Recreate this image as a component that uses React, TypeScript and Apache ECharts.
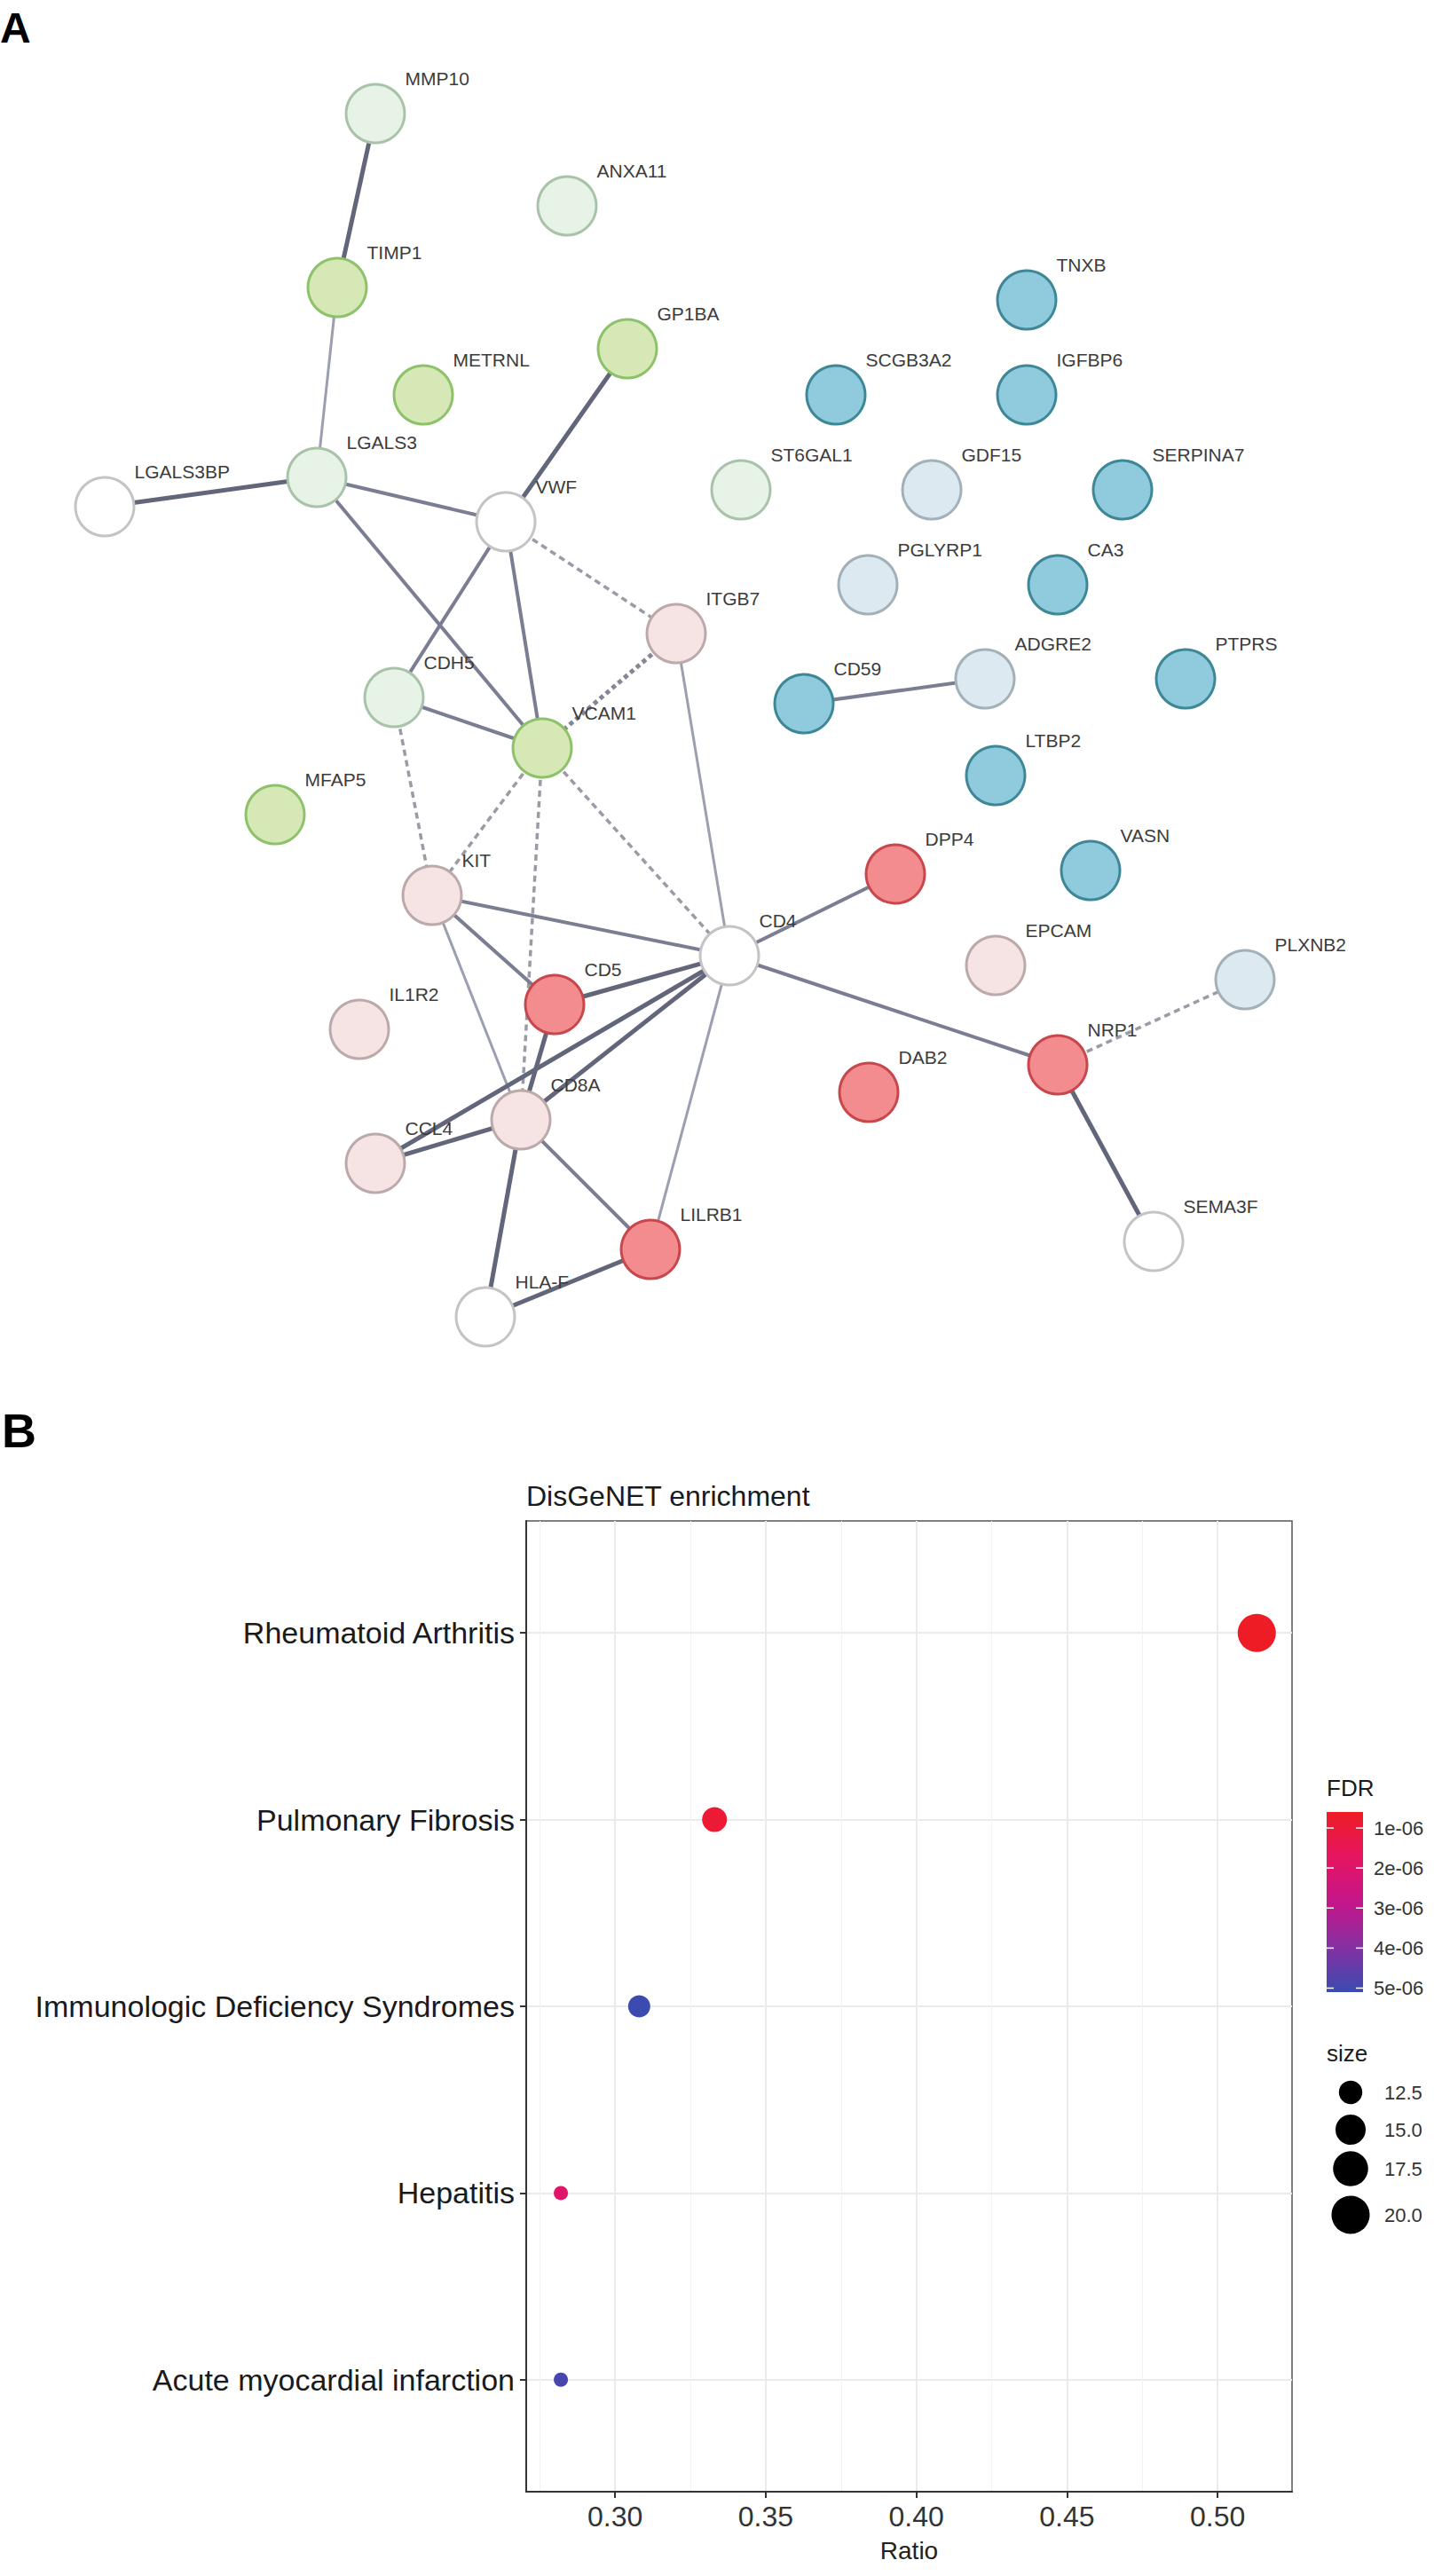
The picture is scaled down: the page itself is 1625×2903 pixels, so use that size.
import React, { useEffect, useRef } from 'react';
import * as echarts from 'echarts';

// ---------- Panel A: STRING protein network ----------
const geneNames = [
  'MMP10', 'ANXA11', 'TIMP1', 'GP1BA', 'METRNL', 'LGALS3', 'LGALS3BP', 'VWF', 'ITGB7', 'CDH5',
  'VCAM1', 'MFAP5', 'KIT', 'CD5', 'IL1R2', 'CD8A', 'CCL4', 'LILRB1', 'HLA-F', 'CD4',
  'TNXB', 'SCGB3A2', 'IGFBP6', 'ST6GAL1', 'GDF15', 'SERPINA7', 'PGLYRP1', 'CA3', 'ADGRE2', 'PTPRS',
  'CD59', 'LTBP2', 'DPP4', 'VASN', 'EPCAM', 'PLXNB2', 'NRP1', 'DAB2', 'SEMA3F',
];
// network layout coordinates (layout units)
const layoutX = [
  423, 639, 380, 707, 477, 357, 118, 570, 762, 444,
  611, 310, 487, 625, 405, 587, 423, 733, 547, 822,
  1157, 942, 1157, 835, 1050, 1265, 978, 1192, 1110, 1336,
  906, 1122, 1009, 1229, 1122, 1403, 1192, 979, 1300,
];
const layoutY = [
  128, 232, 324, 393, 445, 538, 571, 588, 714, 786,
  843, 918, 1009, 1132, 1160, 1262, 1311, 1408, 1484, 1077,
  338, 445, 445, 552, 552, 552, 659, 659, 765, 765,
  793, 874, 985, 981, 1088, 1104, 1200, 1231, 1399,
];
const geneCluster = [
  'paleGreen', 'paleGreen', 'green', 'green', 'green', 'paleGreen', 'white', 'white', 'palePink', 'paleGreen',
  'green', 'green', 'palePink', 'red', 'palePink', 'palePink', 'palePink', 'red', 'white', 'white',
  'teal', 'teal', 'teal', 'paleGreen', 'paleBlue', 'teal', 'paleBlue', 'teal', 'paleBlue', 'teal',
  'teal', 'teal', 'red', 'teal', 'palePink', 'paleBlue', 'red', 'red', 'white',
];

const edgeSource = [
  'MMP10', 'TIMP1', 'LGALS3BP', 'LGALS3', 'LGALS3', 'GP1BA', 'VWF', 'VWF', 'VWF', 'ITGB7',
  'ITGB7', 'CDH5', 'CDH5', 'VCAM1', 'VCAM1', 'VCAM1', 'KIT', 'KIT', 'KIT', 'CD5',
  'CD5', 'CD8A', 'CCL4', 'CCL4', 'CD4', 'CD4', 'CD4', 'CD8A', 'CD8A', 'HLA-F',
  'NRP1', 'NRP1', 'CD59',
];
const edgeTarget = [
  'TIMP1', 'LGALS3', 'LGALS3', 'VWF', 'VCAM1', 'VWF', 'CDH5', 'VCAM1', 'ITGB7', 'VCAM1',
  'CD4', 'VCAM1', 'KIT', 'KIT', 'CD8A', 'CD4', 'CD4', 'CD5', 'CD8A', 'CD4',
  'CD8A', 'CD4', 'CD4', 'CD8A', 'LILRB1', 'DPP4', 'NRP1', 'HLA-F', 'LILRB1', 'LILRB1',
  'PLXNB2', 'SEMA3F', 'ADGRE2',
];
const edgeEvidence = [
  'high', 'low', 'high', 'mid', 'mid', 'high', 'mid', 'mid', 'dash', 'dashHeavy',
  'low', 'mid', 'dash', 'dash', 'dash', 'dash', 'mid', 'mid', 'low', 'high',
  'high', 'high', 'high', 'high', 'low', 'mid', 'mid', 'high', 'mid', 'high',
  'dash', 'high', 'mid',
];

// ---------- Panel B: DisGeNET enrichment ----------
const diseaseNames = [
  'Rheumatoid Arthritis',
  'Pulmonary Fibrosis',
  'Immunologic Deficiency Syndromes',
  'Hepatitis',
  'Acute myocardial infarction',
];
const diseaseRatio = [0.513, 0.333, 0.308, 0.282, 0.282];
const diseaseSize = [20, 13, 12, 11, 11];
const diseaseFDR = [0.6e-6, 0.9e-6, 5.1e-6, 1.9e-6, 4.9e-6];

const ratioTicks = [0.3, 0.35, 0.4, 0.45, 0.5];
const ratioMinorTicks = [0.275, 0.325, 0.375, 0.425, 0.475];
const fdrLegendTicks = [1e-6, 2e-6, 3e-6, 4e-6, 5e-6];
const fdrLegendLabels = ['1e-06', '2e-06', '3e-06', '4e-06', '5e-06'];
const sizeLegendValues = [12.5, 15, 17.5, 20];
const sizeLegendLabels = ['12.5', '15.0', '17.5', '20.0'];

// ---------- styles ----------
const FONT = '"Liberation Sans", Arial, Helvetica, sans-serif';

const clusterStyle: Record<string, { fill: string; stroke: string }> = {
  green: { fill: '#d6e8b6', stroke: '#8dc26b' },
  paleGreen: { fill: '#e8f3e8', stroke: '#a9c3aa' },
  white: { fill: '#ffffff', stroke: '#c4c4c4' },
  palePink: { fill: '#f6e4e5', stroke: '#bcaaab' },
  red: { fill: '#f28c8f', stroke: '#c8474c' },
  teal: { fill: '#8fcbdc', stroke: '#3e8797' },
  paleBlue: { fill: '#dde9f1', stroke: '#a2b0b7' },
};

const edgeStyle: Record<string, any> = {
  high: { width: 5, color: '#62667b', type: 'solid' },
  mid: { width: 4, color: '#7b7e92', type: 'solid' },
  low: { width: 3, color: '#9c9fb0', type: 'solid' },
  dash: { width: 3.5, color: '#9a9ba6', type: [7, 5] },
  dashHeavy: { width: 5, color: '#858796', type: [5, 4] },
};

const fdrColors = ['#ee1c25', '#e51560', '#c4168a', '#8530a2', '#3b4bb0'];

const sizeAnchors: [number, number][] = [
  [11, 16], [12, 25], [12.5, 26.5], [13, 28], [15, 34], [17.5, 39.5], [20, 43],
];
function sizeToDiameter(s: number): number {
  if (s <= sizeAnchors[0][0]) return sizeAnchors[0][1];
  for (let i = 1; i < sizeAnchors.length; i++) {
    const [s0, d0] = sizeAnchors[i - 1];
    const [s1, d1] = sizeAnchors[i];
    if (s <= s1) return d0 + ((s - s0) / (s1 - s0)) * (d1 - d0);
  }
  return sizeAnchors[sizeAnchors.length - 1][1];
}

function buildOption() {
  const nodes = geneNames.map((name, i) => {
    const st = clusterStyle[geneCluster[i]];
    return {
      name,
      value: [layoutX[i], layoutY[i]],
      itemStyle: { color: st.fill, borderColor: st.stroke, borderWidth: 3 },
    };
  });
  const links = edgeSource.map((s, i) => {
    const st = edgeStyle[edgeEvidence[i]];
    return {
      source: s,
      target: edgeTarget[i],
      lineStyle: { width: st.width, color: st.color, type: st.type, opacity: 1, curveness: 0 },
    };
  });

  const scatterData = diseaseNames.map((_, i) => [diseaseRatio[i], i + 1, diseaseFDR[i], diseaseSize[i]]);
  const fdrMin = Math.min(...diseaseFDR);
  const fdrMax = Math.max(...diseaseFDR);

  // legend geometry
  const barX = 1495, barY = 2042, barW = 41, barH = 203;
  const graphics: any[] = [];
  graphics.push({ type: 'text', x: 0, y: 31, style: { text: 'A', fontSize: 48, fontWeight: 'bold', fontFamily: FONT, fill: '#000', textAlign: 'left', textVerticalAlign: 'middle' } });
  graphics.push({ type: 'text', x: 2, y: 1612, style: { text: 'B', fontSize: 54, fontWeight: 'bold', fontFamily: FONT, fill: '#000', textAlign: 'left', textVerticalAlign: 'middle' } });
  graphics.push({ type: 'text', x: 593, y: 1686, style: { text: 'DisGeNET enrichment', fontSize: 32, fontFamily: FONT, fill: '#1a1a1a', textAlign: 'left', textVerticalAlign: 'middle' } });
  graphics.push({ type: 'text', x: barX, y: 2015, style: { text: 'FDR', fontSize: 26, fontFamily: FONT, fill: '#1a1a1a', textAlign: 'left', textVerticalAlign: 'middle' } });
  graphics.push({
    type: 'rect',
    shape: { x: barX, y: barY, width: barW, height: barH },
    style: {
      fill: new echarts.graphic.LinearGradient(0, 0, 0, 1, fdrColors.map((c, i) => ({ offset: i / (fdrColors.length - 1), color: c }))),
    },
  });
  fdrLegendTicks.forEach((v, i) => {
    const y = barY + ((v - fdrMin) / (fdrMax - fdrMin)) * barH;
    graphics.push({ type: 'line', shape: { x1: barX, y1: y, x2: barX + 8, y2: y }, style: { stroke: '#ffffff', lineWidth: 1.5 } });
    graphics.push({ type: 'line', shape: { x1: barX + barW - 8, y1: y, x2: barX + barW, y2: y }, style: { stroke: '#ffffff', lineWidth: 1.5 } });
    graphics.push({ type: 'text', x: 1548, y, style: { text: fdrLegendLabels[i], fontSize: 22, fontFamily: FONT, fill: '#333333', textAlign: 'left', textVerticalAlign: 'middle' } });
  });
  graphics.push({ type: 'text', x: barX, y: 2314, style: { text: 'size', fontSize: 26, fontFamily: FONT, fill: '#1a1a1a', textAlign: 'left', textVerticalAlign: 'middle' } });
  const sizeKeyY = [2358, 2400, 2444, 2496];
  sizeLegendValues.forEach((v, i) => {
    graphics.push({ type: 'circle', shape: { cx: 1522, cy: sizeKeyY[i], r: sizeToDiameter(v) / 2 }, style: { fill: '#000000' } });
    graphics.push({ type: 'text', x: 1560, y: sizeKeyY[i], style: { text: sizeLegendLabels[i], fontSize: 22, fontFamily: FONT, fill: '#333333', textAlign: 'left', textVerticalAlign: 'middle' } });
  });

  return {
    animation: false,
    backgroundColor: '#ffffff',
    textStyle: { fontFamily: FONT },
    grid: [
      { left: 0, top: 0, width: 1625, height: 1580, show: false, containLabel: false, outerBoundsMode: 'none' },
      { left: 593, top: 1714, width: 863, height: 1094, show: true, borderColor: '#555555', borderWidth: 1.5, backgroundColor: 'transparent', containLabel: false, outerBoundsMode: 'none' },
    ],
    xAxis: [
      { gridIndex: 0, type: 'value', min: 0, max: 1625, show: false },
      {
        gridIndex: 1, type: 'value', min: 0.2705, max: 0.5247, position: 'bottom',
        axisLine: { show: true, lineStyle: { color: '#333333', width: 2 } },
        axisTick: { show: true, length: 7, customValues: ratioTicks, lineStyle: { color: '#333333', width: 2 } },
        axisLabel: { show: true, customValues: ratioTicks, formatter: (v: number) => v.toFixed(2), fontSize: 32, color: '#333333', margin: 12, fontFamily: FONT },
        splitLine: { show: true, lineStyle: { color: '#ebebeb', width: 2 } },
        name: 'Ratio', nameLocation: 'middle', nameGap: 52,
        nameTextStyle: { fontSize: 28, color: '#222222', fontFamily: FONT },
      },
      {
        gridIndex: 1, type: 'value', min: 0.2705, max: 0.5247, position: 'bottom',
        axisLine: { show: false },
        axisTick: { show: false, customValues: ratioMinorTicks },
        axisLabel: { show: false },
        splitLine: { show: true, lineStyle: { color: '#f2f2f2', width: 1 } },
      },
    ],
    yAxis: [
      { gridIndex: 0, type: 'value', min: 0, max: 1580, inverse: true, show: false },
      {
        gridIndex: 1, type: 'value', min: 0.4, max: 5.6, inverse: true,
        axisLine: { show: true, lineStyle: { color: '#333333', width: 2 } },
        axisTick: { show: true, length: 7, customValues: [1, 2, 3, 4, 5], lineStyle: { color: '#333333', width: 2 } },
        axisLabel: {
          show: true, customValues: [1, 2, 3, 4, 5],
          formatter: (v: number) => diseaseNames[Math.round(v) - 1] || '',
          fontSize: 34, color: '#1a1a1a', margin: 13, fontFamily: FONT,
        },
        splitLine: { show: true, lineStyle: { color: '#ebebeb', width: 2 } },
      },
    ],
    visualMap: [
      {
        type: 'continuous', show: false, seriesIndex: 1, dimension: 2,
        min: fdrMin, max: fdrMax, inRange: { color: fdrColors },
      },
    ],
    series: [
      {
        type: 'graph',
        coordinateSystem: 'cartesian2d',
        xAxisIndex: 0,
        yAxisIndex: 0,
        symbol: 'circle',
        symbolSize: 66,
        silent: true,
        roam: false,
        emphasis: { disabled: true },
        label: {
          show: true,
          position: [68, -5],
          align: 'left',
          verticalAlign: 'middle',
          fontSize: 21,
          color: '#3c3c3c',
          fontFamily: FONT,
        },
        lineStyle: { opacity: 1 },
        data: nodes,
        links,
        z: 2,
      },
      {
        type: 'scatter',
        xAxisIndex: 1,
        yAxisIndex: 1,
        symbol: 'circle',
        symbolSize: (val: number[]) => sizeToDiameter(val[3]),
        itemStyle: { opacity: 1 },
        silent: true,
        data: scatterData,
        z: 5,
      },
    ],
    graphic: graphics,
  };
}

export default function App() {
  const ref = useRef<HTMLDivElement>(null);
  useEffect(() => {
    if (!ref.current) return;
    const chart = echarts.init(ref.current, null, { renderer: 'svg' });
    chart.setOption(buildOption() as any);
    return () => chart.dispose();
  }, []);
  return (
    <div
      ref={ref}
      style={{ position: 'absolute', left: 0, top: 0, width: 1625, height: 2903, background: '#ffffff' }}
    />
  );
}
